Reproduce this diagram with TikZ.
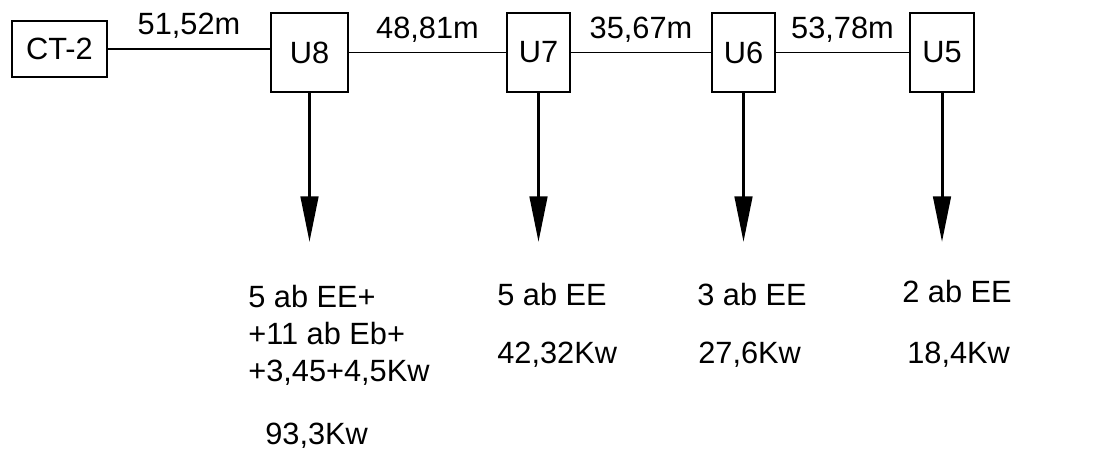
\documentclass[tikz,border=0pt]{standalone}
\usepackage{fontspec}
\setmainfont{Liberation Sans}
\usetikzlibrary{arrows.meta,positioning}

\begin{document}
\begin{tikzpicture}[x=0.02cm, y=-0.02cm, font=\fontsize{17.5}{21}\selectfont,
  box/.style={draw, rectangle, line width=1.1pt, inner sep=0pt, minimum height=1.58cm},
  dist/.style={midway, above=2pt},
  load/.style={line width=1.7pt, -{Triangle[length=26pt, width=10pt]}},
  lbl/.style={anchor=north west, inner sep=0pt, align=left}]
  \useasboundingbox (0,0) rectangle (1112,456);

  \node[box, minimum width=1.9cm, minimum height=1.12cm] (ct2) at (59.5,49) {CT-2};
  \node[box, minimum width=1.54cm] (u8) at (309.5,52.5) {U8};
  \node[box, minimum width=1.26cm] (u7) at (538.5,52.5) {U7};
  \node[box, minimum width=1.26cm] (u6) at (743.5,52.5) {U6};
  \node[box, minimum width=1.28cm] (u5) at (942,52.5) {U5};

  \draw[line width=0.9pt] (ct2.east) -- node[dist] {51,52m} (ct2.east -| u8.west);
  \draw[line width=0.9pt] (u8) -- node[dist] {48,81m} (u7);
  \draw[line width=0.9pt] (u7) -- node[dist] {35,67m} (u6);
  \draw[line width=0.9pt] (u6) -- node[dist] {53,78m} (u5);

  \foreach \u in {u8,u7,u6,u5} {
    \path (\u.south) ++(0,149) coordinate (\u tip);
    \draw[load] (\u.south) -- (\u tip);
  }

  \node[lbl] (l8a) at (248,285) {5 ab EE+\\+11 ab Eb+\\+3,45+4,5Kw};
  \node[lbl] (l8b) at (265,423) {93,3Kw};
  \node[lbl] (l7a) at (497,283) {5 ab EE};
  \node[lbl] (l7b) at (497,342) {42,32Kw};
  \node[lbl] (l6a) at (697,283) {3 ab EE};
  \node[lbl] (l6b) at (698,342) {27,6Kw};
  \node[lbl] (l5a) at (902,280) {2 ab EE};
  \node[lbl] (l5b) at (907,342) {18,4Kw};
\end{tikzpicture}
\end{document}
